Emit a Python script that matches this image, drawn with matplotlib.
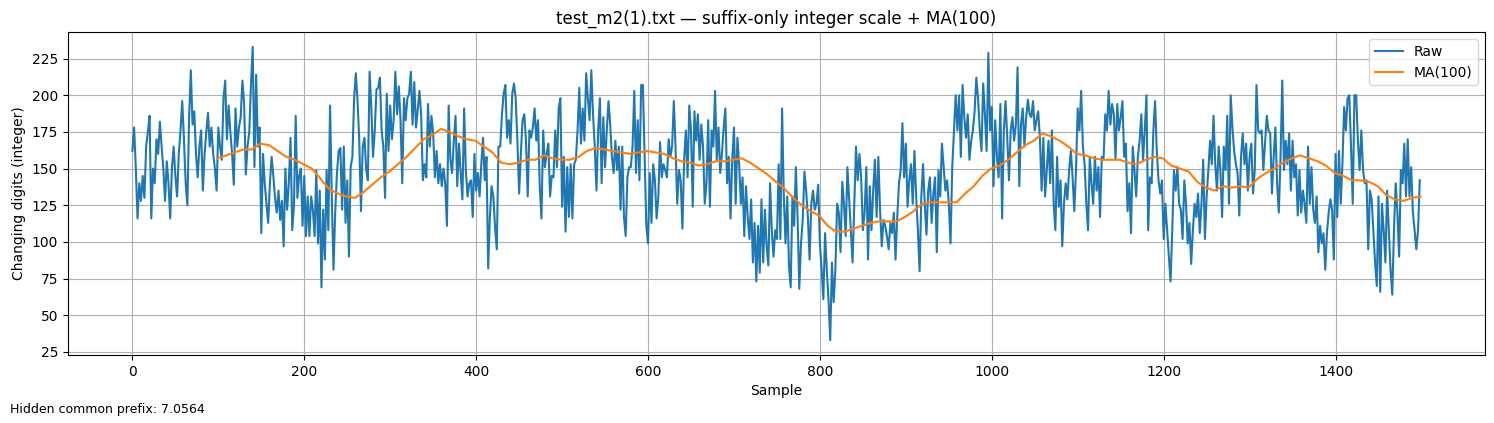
import numpy as np
import matplotlib
matplotlib.use("Agg")
import matplotlib.pyplot as plt

# raw values, every 2nd sample
raw_values = [
    162, 178, 150, 116, 140, 128, 145, 130, 165, 175,
    186, 116, 150, 140, 170, 160, 182, 165, 150, 128,
    155, 140, 116, 150, 165, 145, 131, 160, 176, 196,
    170, 140, 125, 185, 217, 180, 189, 160, 144, 165,
    176, 135, 160, 175, 188, 165, 178, 160, 150, 135,
    178, 165, 156, 198, 210, 170, 193, 175, 160, 139,
    191, 165, 178, 185, 210, 195, 146, 165, 175, 207,
    233, 151, 214, 165, 178, 106, 160, 140, 126, 113,
    140, 158, 145, 130, 120, 135, 115, 128, 97, 150,
    122, 140, 171, 108, 125, 186, 130, 145, 150,
    111, 145, 104, 131, 104, 131, 122, 104, 149, 99, 135,
    69, 122, 88, 149, 108, 193, 131, 81, 120, 147, 162, 164, 122,
    165, 113, 142, 90, 151, 158, 198, 215, 196, 169,
    121, 165, 171, 150, 142, 216, 192, 158, 176, 204,
    205, 212, 176, 165, 130, 201, 162, 193, 170, 183,
    216, 187, 206, 183, 140, 198, 183, 198, 201, 216,
    180, 209, 178, 190, 203, 187, 142, 153, 144, 194,
    165, 186, 174, 144, 162, 140, 153, 138, 150, 140,
    111, 193, 156, 147, 169, 186, 138, 167, 147, 129,
    191, 149, 131, 140, 142, 117, 160, 135, 147, 131,
    153, 171, 142, 158, 82, 117, 138, 131, 110, 95,
    165, 165, 187, 201, 207, 171, 183, 167, 201, 208,
    198, 169, 133, 160, 183, 187, 169, 131, 176, 171,
    178, 191, 169, 183, 138, 116, 176, 151, 160, 167,
    131, 145,
    144, 176, 151, 191, 198, 124, 158, 107, 151, 117,
    153, 116, 153, 156, 176, 205, 167, 191, 169, 215,
    198, 183, 217, 187, 165, 135, 176, 198, 140, 185,
    151, 176, 196, 180, 158, 147, 169, 149, 165, 122,
    165, 117, 104, 144, 151, 151, 165, 203, 147, 183,
    142, 207, 207, 158, 111, 99, 147, 113, 153, 142,
    116, 131, 168, 144, 153, 149, 144, 170, 158, 165,
    196, 165, 126, 149, 142, 109, 156, 176, 144, 193,
    176, 124, 189, 169, 187, 156, 180, 165, 126, 140,
    183, 124, 176, 165, 203, 156, 178, 147, 160, 178,
    191, 140, 158, 116, 156, 178, 126, 171, 153, 126,
    144, 104, 138, 117, 102, 129, 86, 113, 73, 111,
    79, 129, 86, 122, 97, 84, 140, 108, 90, 108,
    102, 153, 102, 191,
    131, 99, 131, 84, 69, 131, 111, 151, 117, 68,
    99, 115, 148, 135, 117, 88, 126, 135, 122, 126,
    139, 99, 81, 61, 106, 81, 61, 33, 86, 59,
    81, 126, 120, 93, 141, 126, 104, 151, 129, 108,
    86, 126, 165, 142, 160, 144, 108, 120, 151, 88,
    138, 108, 135, 156, 117, 158, 122, 97, 115, 111,
    104, 95, 113, 106, 120, 88, 117, 140, 149, 181,
    144, 167, 124, 142, 153, 126, 162, 131, 108, 80,
    131, 153, 126, 105, 135, 144, 113, 133, 144, 93,
    149, 131, 167, 151, 135, 142, 126, 99, 151, 176,
    200, 176, 200, 158, 207, 185, 171, 187, 156, 169,
    176, 189, 212, 198, 176, 162, 208, 187, 162, 229,
    176, 192, 138, 183, 158, 144, 194, 116, 176, 196,
    171, 142, 176, 185,
    169, 180, 219, 138, 180, 191, 165, 185, 197, 187,
    185, 196, 176, 183, 189, 171, 135, 171, 131, 149,
    169, 140, 176, 126, 108, 158, 124, 142,
    97, 126, 140, 129, 149, 162, 144, 121, 149, 191,
    176, 203, 165, 153, 126, 108, 158, 140, 126,
    158, 135, 151, 117, 158, 156, 187, 176, 203, 180,
    194, 187, 156, 194, 176, 185, 196, 158, 167,
    121, 140, 106, 165, 149, 131, 158, 169, 187,
    156, 176, 200, 108, 144, 140, 176, 196, 162,
    142, 133, 142, 102, 126, 108, 90, 73, 108, 149,
    135, 151, 126, 122, 102, 142, 126, 99, 113,
    85, 108, 126, 117, 133, 106, 126, 156, 102, 131,
    149, 169, 153, 186, 153, 135, 165, 149, 117, 165,
    149, 186, 126, 200, 178, 162, 153, 147, 118, 158,
    174,
    153, 167, 135, 158, 167, 133, 149, 207, 176, 174,
    176, 149, 167, 186, 176, 174, 133, 158, 178, 140,
    120, 158,
    210, 149, 169, 153, 174, 135, 169, 144, 153,
    118, 149, 120, 135, 126, 113, 165, 126, 151,
    122, 113, 131, 93, 111, 99, 106, 81, 106,
    120, 129, 122, 88, 160, 117, 162, 126, 153,
    192, 176, 198, 200, 165, 126, 200, 200, 169, 149,
    176, 149, 140, 142, 95, 135, 129, 108, 86,
    70, 131, 66, 126, 108, 86, 135, 108, 81, 64,
    108, 140, 120, 90, 149, 140, 167, 131, 170, 131,
    151, 120, 108, 95, 108, 142,
]

# 100-sample moving average, read every 10 samples from index 99
ma_values = [
    157, 159, 161, 163, 163, 167, 166, 162, 158, 156,
    153, 150, 143, 136, 133, 131, 130, 134, 139, 144,
    148, 153, 158, 164, 170, 173, 177, 175, 172, 170,
    169, 165, 161, 154, 153, 154, 156, 156, 159, 157,
    156, 156, 158, 162, 164, 163, 162, 161, 160, 161,
    162, 161, 160, 157, 155, 154, 152, 153, 155, 155,
    156, 157, 154, 150, 146, 141, 136, 130, 125, 121,
    118, 111, 107, 107, 109, 111, 113, 114, 114, 114,
    117, 121, 126, 127, 127, 127, 127, 133, 138, 145,
    150, 152, 156, 161, 166, 169, 174, 172, 169, 165,
    160, 159, 157, 156, 156, 156, 154, 153, 156, 158,
    157, 152, 150, 148, 141, 137, 135, 138, 137, 138,
    137, 143, 147, 150, 154, 157, 159, 157, 155, 152,
    147, 145, 142, 142, 141, 138, 132, 129, 128, 130,
    131,
]

raw_x = 2 * np.arange(len(raw_values))
ma_x = 99 + 10 * np.arange(len(ma_values))

fig, ax = plt.subplots(figsize=(14.94, 4.23), dpi=100)
ax.plot(raw_x, raw_values, label='Raw')
ax.plot(ma_x, ma_values, label='MA(100)')
ax.set_title('test_m2(1).txt — suffix-only integer scale + MA(100)')
ax.set_xlabel('Sample')
ax.set_ylabel('Changing digits (integer)')
ax.set_yticks(np.arange(25, 226, 25))
ax.grid(True)
ax.legend(loc='upper right')

fig.subplots_adjust(left=0.0455, right=0.994, top=0.924, bottom=0.161)
fig.text(0.0067, 0.024, 'Hidden common prefix: 7.0564', fontsize=9)

fig.savefig('out.png')
